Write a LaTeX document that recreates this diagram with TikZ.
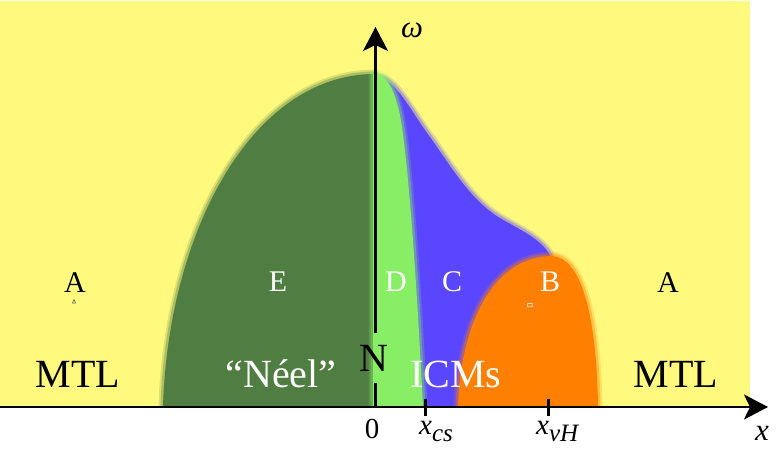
\documentclass[tikz,border=0pt]{standalone}
\usepackage{fontspec}
\setmainfont{LiberationSerif}[Extension=.ttf, UprightFont=*-Regular, ItalicFont=*-Italic, BoldFont=*-Bold, BoldItalicFont=*-BoldItalic]
\usetikzlibrary{arrows.meta}
\definecolor{bgyellow}{RGB}{255,250,125}
\definecolor{darkgr}{RGB}{80,125,65}
\definecolor{lightgr}{RGB}{136,238,102}
\definecolor{violetc}{RGB}{90,70,255}
\definecolor{orng}{RGB}{255,128,0}
\newcommand\softregion[2]{%
  \draw[#1, line width=9pt, opacity=0.2, line join=round] #2;
  \draw[#1, line width=5pt, opacity=0.35, line join=round] #2;
  \fill[#1] #2;}
\tikzset{
  lab/.style={font=\fontsize{30}{36}\selectfont, inner sep=0pt, anchor=base},
  wlab/.style={lab, text=white},
  big/.style={font=\fontsize{40}{48}\selectfont, inner sep=0pt, anchor=base},
  wbig/.style={big, text=white},
  ticklab/.style={font=\fontsize{29}{34}\selectfont\itshape, inner sep=0pt, anchor=base west},
  axisline/.style={line width=2.6pt, draw=black},
  tickmark/.style={line width=3pt, draw=black},
  tip/.style={-{Stealth[length=24pt,width=25pt,inset=6pt]}}
}
\newcommand\subs[1]{\raisebox{-7pt}{\fontsize{25}{30}\selectfont #1}}
\begin{document}
\begin{tikzpicture}[x=1pt,y=-1pt]
\useasboundingbox (0,0) rectangle (776,454);
\begin{scope}
  \clip (0,0) rectangle (750,407);
  \fill[bgyellow] (0,1.5) rectangle (750,407);
  % C region (purple)
  \softregion{violetc}{(378,407) -- (378,78) .. controls (395,78) and (410,110) .. (430,137) .. controls (450,165) and (470,200) .. (500,218) .. controls (520,230) and (540,238) .. (550,255) -- (560,407) -- cycle}
  % B region (orange)
  \softregion{orng}{(458,407) .. controls (460,330) and (490,258) .. (550,256) .. controls (585,255) and (597,330) .. (598,407) -- cycle}
  % E region (dark green)
  \softregion{darkgr}{(374,407) -- (163,407) .. controls (168,235) and (250,75) .. (374,74) -- cycle}
  % D region (light green)
  \softregion{lightgr}{(373,407) -- (373,74) .. controls (386,73) and (396,88) .. (402,127) .. controls (408,170) and (415,250) .. (423,407) -- cycle}
  % tiny marks
  \draw[black!70, line width=0.5pt] (72.5,303) -- (74,299.5) -- (75.5,303) -- cycle;
  \draw[white!70!orng, line width=0.7pt] (527.5,303) rectangle (532,306.5);
\end{scope}
% region labels
\node[lab] (A1) at (75,292) {A};
\node[wlab] (E) at (278,291) {E};
\node[wlab] (D) at (396,291) {D};
\node[wlab] (C) at (452,291) {C};
\node[wlab] (B) at (550,291) {B};
\node[lab] (A2) at (668,292) {A};
\node[big] (MTL1) at (78,387) {MTL};
\node[wbig] (Neel) at (281,387) {“Néel”};
\node[wbig] (ICM) at (456,387) {ICMs};
\node[big] (MTL2) at (676,387) {MTL};
\node[big, inner xsep=0pt, inner ysep=12pt] (N) at (374,371) {N};
% axes
\coordinate (O) at (375.5,407);
\coordinate (Wtop) at (375.5,27);
\coordinate (Xl) at (0,407);
\coordinate (Xr) at (768,407);
\draw[axisline] (O) -- (O |- N.south);
\draw[axisline, tip] (O |- N.north) -- (Wtop);
\draw[axisline, tip] (Xl) -- (Xr);
% ticks
\coordinate (Tcs) at (425,407);
\coordinate (TvH) at (548,407);
\draw[tickmark] ([yshift=8pt]Tcs) -- ([yshift=-9pt]Tcs);
\draw[tickmark] ([yshift=8pt]TvH) -- ([yshift=-9pt]TvH);
% axis labels
\node[font=\fontsize{29}{34}\selectfont, inner sep=0pt, anchor=base] (zero) at (372,438) {0};
\node[ticklab] (xcs) at (419,434) {x\subs{cs}};
\node[ticklab] (xvH) at (536,434) {x\subs{vH}};
\node[font=\fontsize{31}{36}\selectfont\itshape, inner sep=0pt, anchor=base] (xlab) at (762,440) {x};
\node[font=\fontsize{31}{36}\selectfont\itshape, inner sep=0pt, anchor=base] (wlab) at (412,38) {ω};
\end{tikzpicture}
\end{document}
